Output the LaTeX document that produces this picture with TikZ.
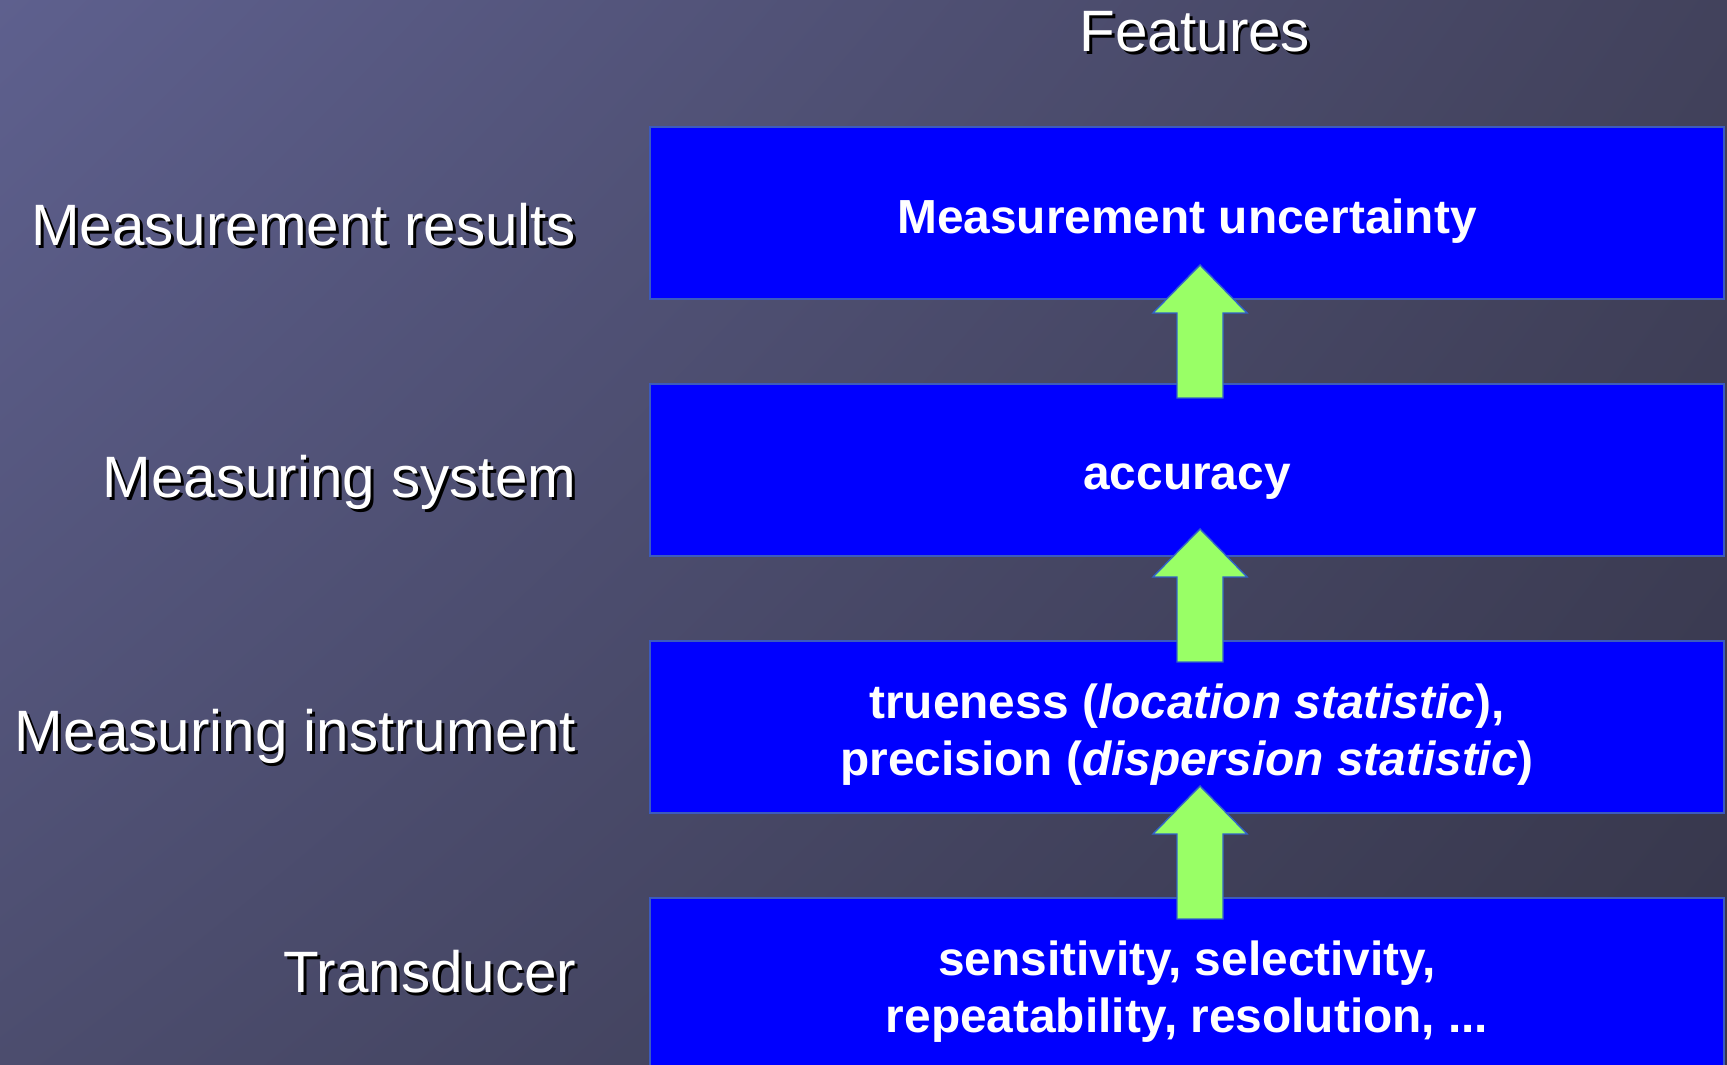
\documentclass[tikz,border=0pt]{standalone}
\usepackage{fontspec}
\setmainfont{Liberation Sans}
\usepackage{tikz}
\usetikzlibrary{calc}
\usetikzlibrary{shadings}

\definecolor{bgTL}{RGB}{94,96,142}
\definecolor{bgTR}{RGB}{66,66,92}
\definecolor{bgBL}{RGB}{76,77,110}
\definecolor{bgBR}{RGB}{54,54,74}
\definecolor{featblue}{RGB}{0,0,255}
\definecolor{featedge}{RGB}{60,90,190}
\definecolor{upgreen}{RGB}{153,255,102}
\definecolor{upedge}{RGB}{50,100,200}

\newcommand{\dropshadow}[1]{\rlap{\kern0.8pt\raisebox{-0.8pt}{\color{black}#1}}#1}

\tikzset{
  levellabel/.style={anchor=base east, inner sep=0pt, text=white,
    font=\fontsize{16.6}{19}\selectfont},
  featbox/.style={draw=featedge, line width=0.6pt, fill=featblue,
    minimum width=10.74cm, minimum height=1.72cm, inner sep=0pt},
  feattext/.style={inner sep=0pt, text=white, align=center,
    font=\fontsize{13.6}{16.2}\selectfont\bfseries},
  uparrow/.style={draw=upedge, line width=0.4pt, fill=upgreen, line join=miter}
}

\begin{document}
\begin{tikzpicture}[x=0.01cm,y=-0.01cm]
\useasboundingbox (0,0) rectangle (1727,1065);
\clip (0,0) rectangle (1727,1065);
\shade[upper left=bgTL, upper right=bgTR, lower left=bgBL, lower right=bgBR]
  (0,0) rectangle (1727,1065);

% title
\node[levellabel, anchor=base] (features) at (1195,52) {\dropshadow{Features}};

% levels
\node[levellabel] (results) at (577,246) {\dropshadow{Measurement results}};
\node[levellabel] (system) at (577,498) {\dropshadow{Measuring system}};
\node[levellabel] (instrument) at (577,752) {\dropshadow{Measuring instrument}};
\node[levellabel] (transducer) at (577,993) {\dropshadow{Transducer}};

% feature boxes
\node[featbox] (box1) at (1187,213) {};
\node[featbox] (box2) at (1187,470) {};
\node[featbox] (box3) at (1187,727) {};
\node[featbox] (box4) at (1187,984) {};

\node[feattext, anchor=base] (uncert) at (1187,234) {Measurement uncertainty};
\node[feattext, anchor=base] (accur) at (1187,490) {accuracy};
\node[feattext] (truen) at (1187,735)
  {trueness (\textit{location statistic}),\\precision (\textit{dispersion statistic})};
\node[feattext] (sensit) at (1187,992)
  {sensitivity, selectivity,\\repeatability, resolution, ...};

% arrows between the boxes
\foreach \t [count=\k] in {265,529,786}{
  \coordinate (tip\k) at (1200,\t);
  \draw[uparrow] ($(tip\k)+(-23,133)$) -- ++(0,-85) -- ++(-24,0) -- (tip\k)
    -- ++(47,48) -- ++(-24,0) -- ($(tip\k)+(23,133)$) -- cycle;
}

\end{tikzpicture}
\end{document}
